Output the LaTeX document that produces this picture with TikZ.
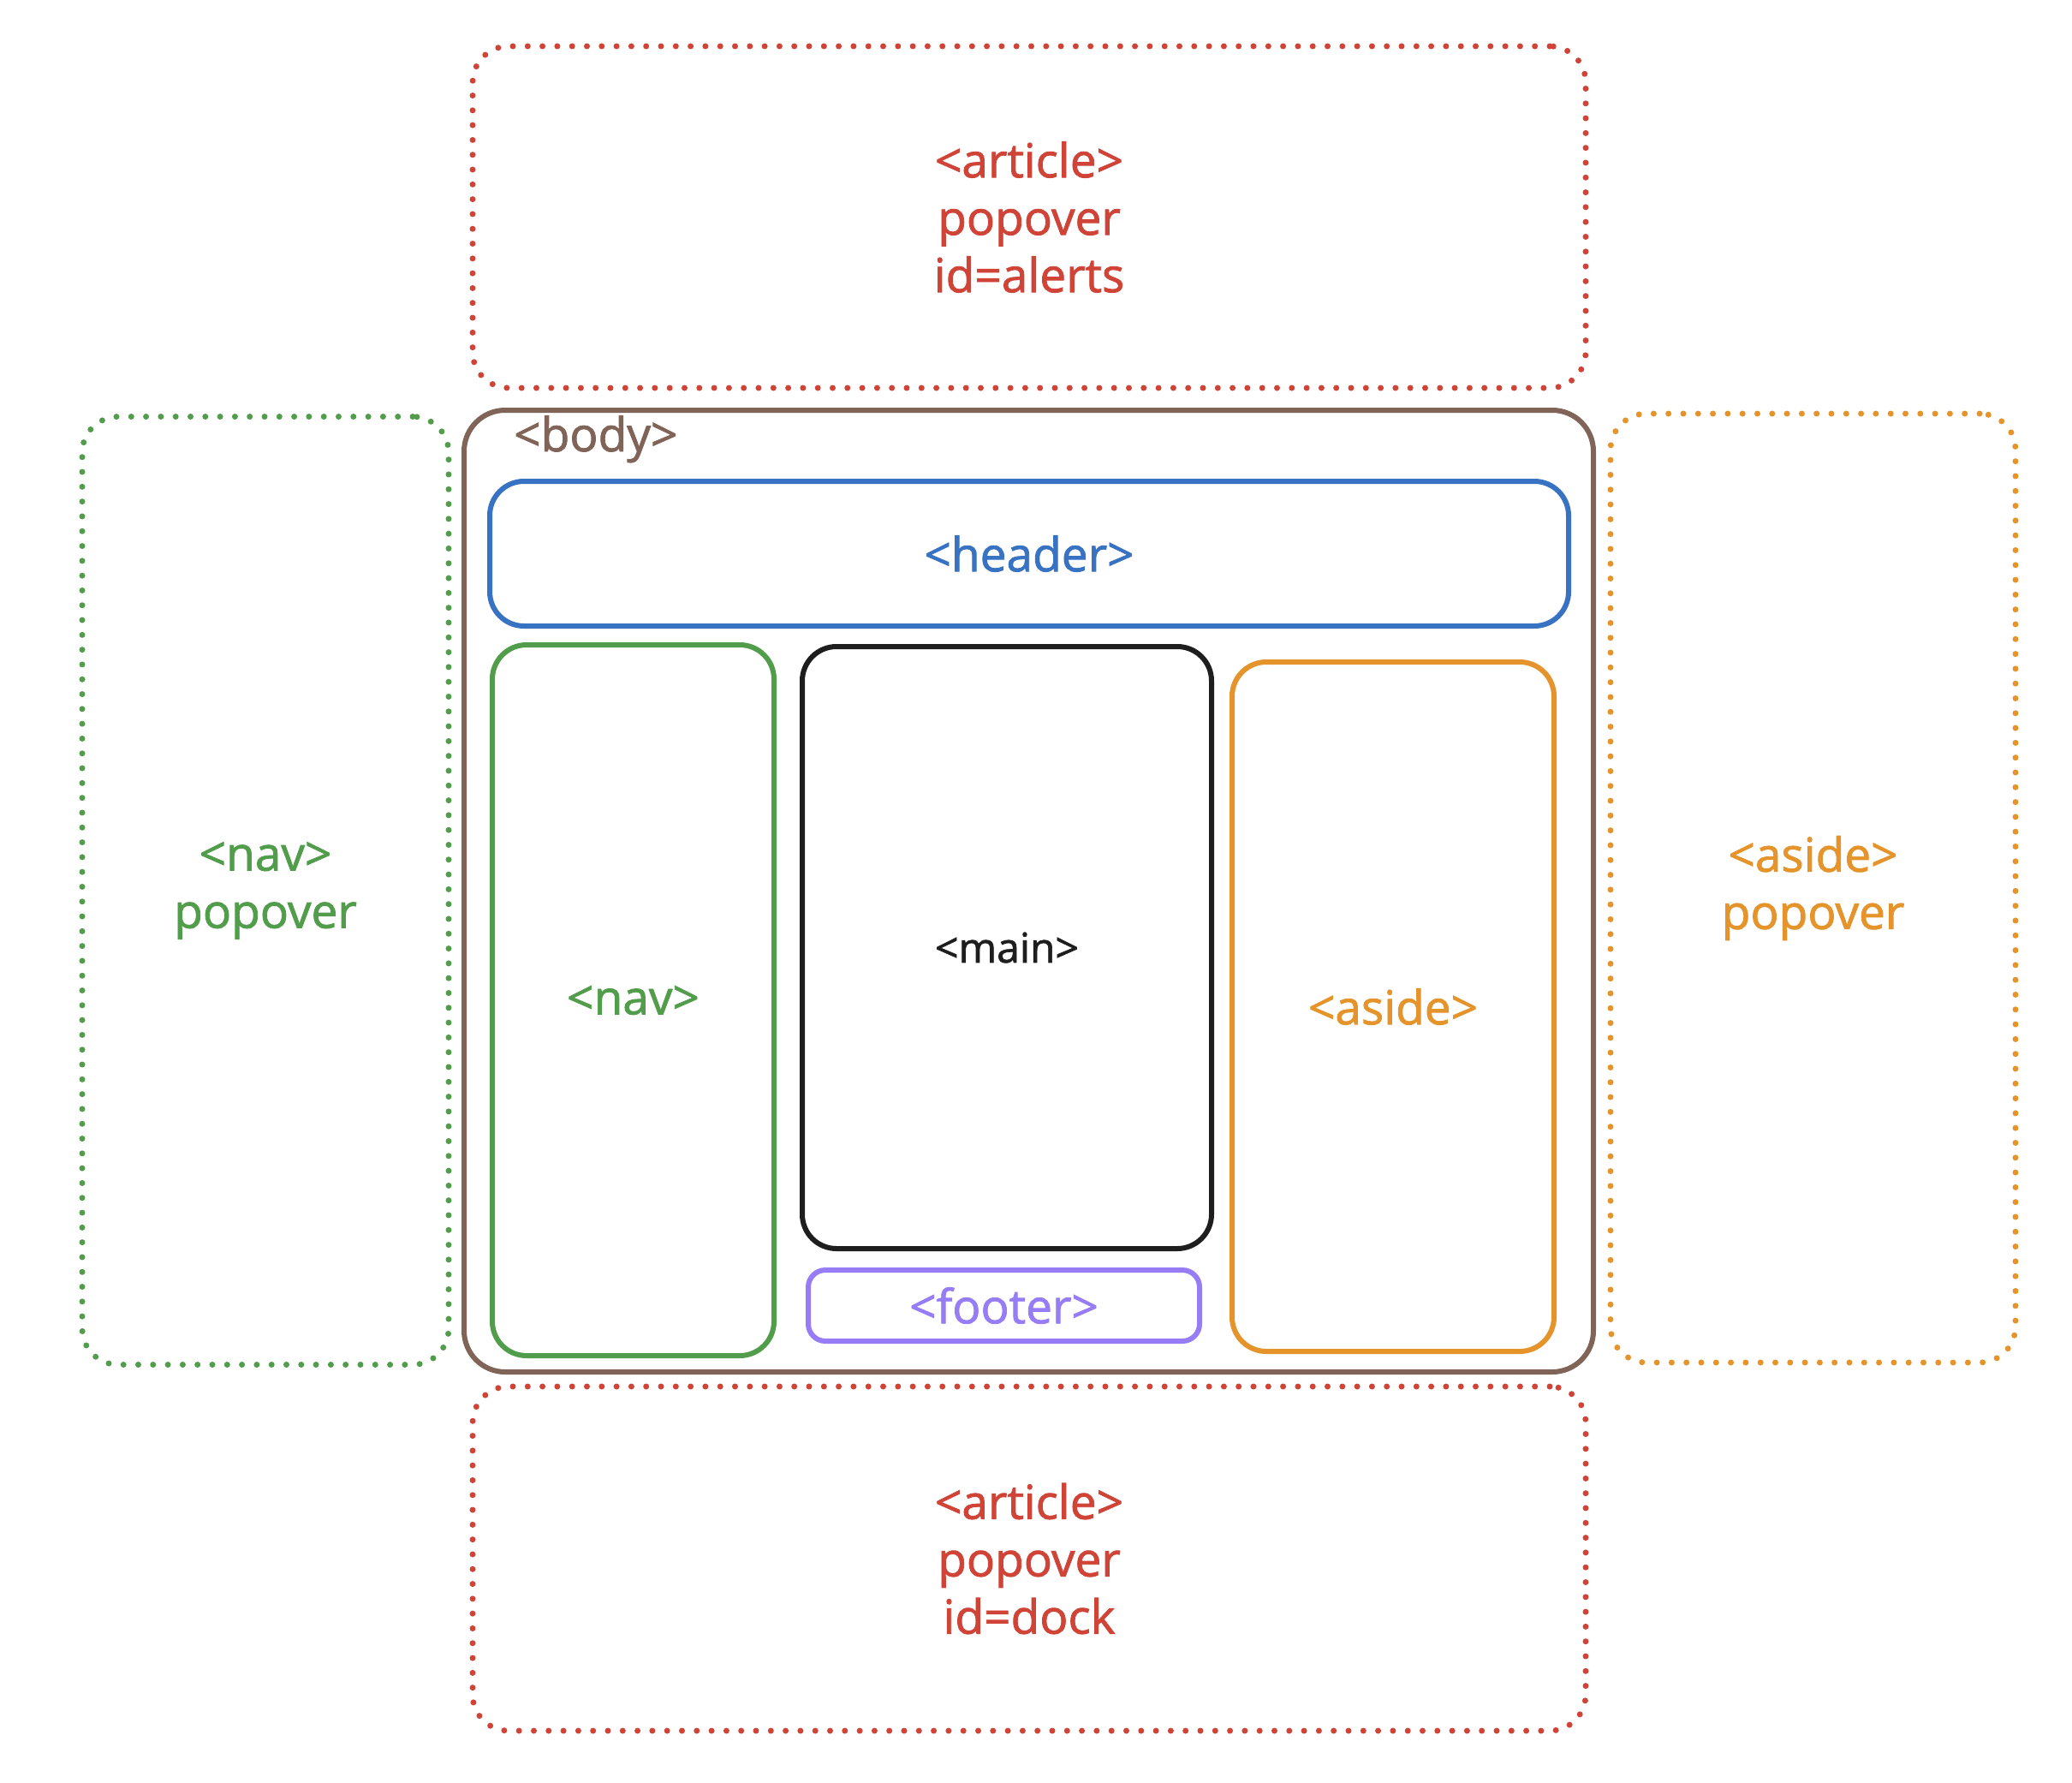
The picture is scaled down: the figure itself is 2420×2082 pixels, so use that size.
\documentclass[tikz,border=0pt]{standalone}
\usepackage{fontspec}
\setmainfont{Open Sans}[FakeBold=1.5,AutoFakeBold=1.5]
\definecolor{cred}{RGB}{208,68,56}
\definecolor{cgreen}{RGB}{82,157,75}
\definecolor{cblue}{RGB}{56,114,194}
\definecolor{corange}{RGB}{229,148,44}
\definecolor{cpurple}{RGB}{150,125,245}
\definecolor{cbrown}{RGB}{128,100,88}
\definecolor{cblack}{RGB}{30,30,30}
\tikzset{
  txt/.style={font=\fontsize{55}{67}\selectfont, align=center},
  solidbox/.style={draw, rectangle, line width=6pt, rounded corners=40pt, inner sep=0pt, txt},
  dotbox/.style={draw, rectangle, line width=7pt, line cap=round, dash pattern=on 0pt off 17.3pt, rounded corners=42pt, inner sep=0pt, txt},
}
\begin{document}
\begin{tikzpicture}[x=1pt,y=-1pt]
\useasboundingbox (0,0) rectangle (2420,2082);
% popovers
\node[dotbox, draw=cred, text=cred, minimum width=1300pt, minimum height=399pt] (alerts) at (1202,253.5) {<article>\\popover\\id=alerts};
\node[dotbox, draw=cred, text=cred, minimum width=1300pt, minimum height=402pt] (dock) at (1202,1820) {<article>\\popover\\id=dock};
\node[dotbox, draw=cgreen, text=cgreen, minimum width=428pt, minimum height=1107pt] (navpop) at (310,1040) {<nav>\\popover};
\node[dotbox, draw=corange, text=corange, minimum width=473pt, minimum height=1108pt] (asidepop) at (2117.5,1037) {<aside>\\popover};
% body
\node[solidbox, draw=cbrown, rounded corners=48pt, minimum width=1319pt, minimum height=1123pt] (body) at (1201.5,1040.5) {};
\node[txt, text=cbrown, anchor=base west, inner sep=0pt] (bodylabel) at (600,527) {<body>};
% inner boxes
\node[solidbox, draw=cblue, text=cblue, minimum width=1260pt, minimum height=169pt] (header) at (1202,646.5) {<header>};
\node[solidbox, draw=cgreen, text=cgreen, minimum width=329pt, minimum height=830pt] (nav) at (739.5,1168) {<nav>};
\node[solidbox, draw=cblack, text=cblack, minimum width=478pt, minimum height=703pt, font=\fontsize{48}{60}\selectfont] (main) at (1176,1106.5) {<main>};
\node[solidbox, draw=corange, text=corange, minimum width=376pt, minimum height=805pt] (aside) at (1627,1175.5) {<aside>};
\node[solidbox, draw=cpurple, text=cpurple, rounded corners=20pt, minimum width=457pt, minimum height=83pt] (footer) at (1172.5,1524.5) {<footer>};
\end{tikzpicture}
\end{document}
